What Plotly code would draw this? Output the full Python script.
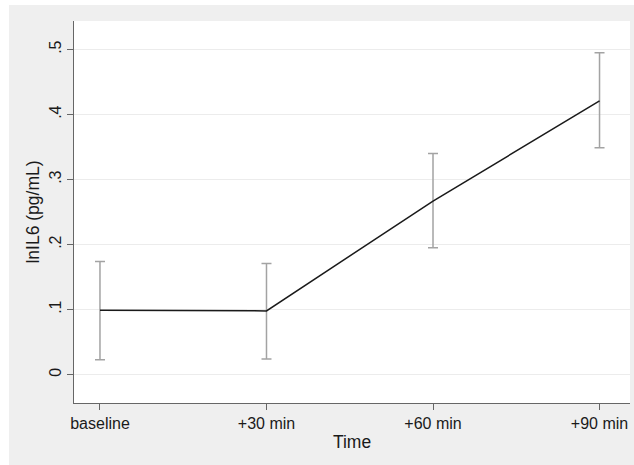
import plotly.graph_objects as go

# Data
time_labels = ["baseline", "+30 min", "+60 min", "+90 min"]
time_pos = [0, 1, 2, 3]
mean_vals = [0.099, 0.098, 0.267, 0.421]
ci_low = [0.023, 0.024, 0.195, 0.349]
ci_high = [0.174, 0.171, 0.340, 0.495]
y_tickvals = [0, 0.1, 0.2, 0.3, 0.4, 0.5]
y_ticktext = ["0", ".1", ".2", ".3", ".4", ".5"]

err_plus = [h - m for h, m in zip(ci_high, mean_vals)]
err_minus = [m - l for m, l in zip(mean_vals, ci_low)]

W, H = 634, 465
ml, mr, mt, mb = 74, 4, 21, 62
pw, ph = W - ml - mr, H - mt - mb

def px_x(p):
    return (p - ml) / pw

def px_y(p):
    return (H - mb - p) / ph

fig = go.Figure()
fig.add_trace(go.Scatter(
    x=time_pos, y=mean_vals, mode="lines",
    line=dict(color="#1a1a1a", width=1.5),
    error_y=dict(type="data", symmetric=False, array=err_plus, arrayminus=err_minus,
                 color="#a3a3a3", thickness=1.5, width=5),
    showlegend=False, hoverinfo="skip",
))

bg = "#efefef"
fig.update_layout(
    width=W, height=H,
    margin=dict(l=ml, r=mr, t=mt, b=mb),
    paper_bgcolor=bg, plot_bgcolor="white",
    font=dict(family="Liberation Sans, Arial, sans-serif", size=16, color="#1a1a1a"),
    shapes=[
        dict(type="rect", xref="paper", yref="paper", x0=px_x(-5), x1=px_x(9),
             y0=px_y(H + 5), y1=px_y(-5), fillcolor="white", line=dict(width=0), layer="below"),
        dict(type="rect", xref="paper", yref="paper", x0=px_x(-5), x1=px_x(W + 5),
             y0=px_y(5), y1=px_y(-5), fillcolor="white", line=dict(width=0), layer="below"),
    ],
)
fig.update_xaxes(
    range=[-0.156, 3.183], tickvals=time_pos, ticktext=time_labels,
    showgrid=False, zeroline=False,
    showline=True, linecolor="#666666", linewidth=1.2,
    ticks="outside", ticklen=6, tickcolor="#666666", tickwidth=1,
    title=dict(text="Time", font=dict(size=17.5), standoff=4),
)
fig.update_yaxes(
    range=[-0.0437, 0.544], tickvals=y_tickvals, ticktext=y_ticktext,
    tickangle=-90,
    showgrid=True, gridcolor="#ececec", gridwidth=1, zeroline=False,
    showline=True, linecolor="#666666", linewidth=1.2,
    ticks="outside", ticklen=6, tickcolor="#666666", tickwidth=1,
    title=dict(text="lnIL6 (pg/mL)", font=dict(size=17.5), standoff=2),
)

fig.write_html("out.html")
